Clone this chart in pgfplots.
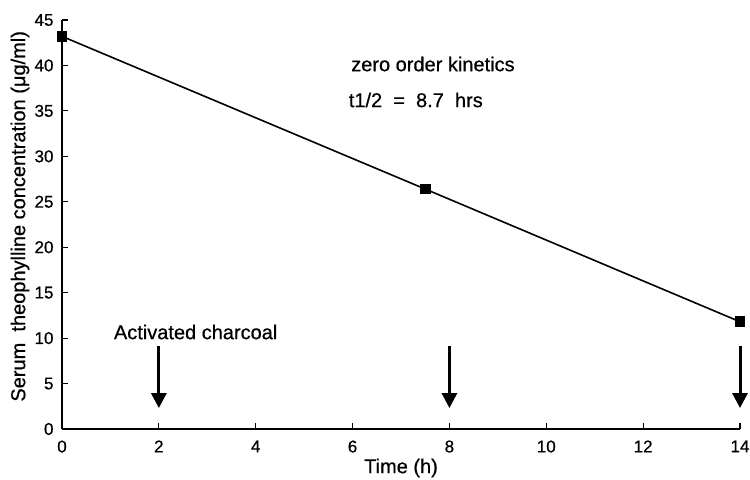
\documentclass[border=0pt]{standalone}
\usepackage{fontspec}
\setmainfont{Liberation Sans}[FakeBold=0.6]
\usepackage{pgfplots}
\pgfplotsset{compat=1.18}
\usetikzlibrary{arrows.meta}

\begin{document}
\begin{tikzpicture}
\useasboundingbox (-62bp,-51bp) rectangle (688bp,429bp);
\begin{axis}[
    scale only axis,
    width=678bp,
    height=409bp,
    xmin=0, xmax=14,
    ymin=0, ymax=45,
    xtick={0,2,...,14},
    ytick={0,5,...,45},
    axis x line*=bottom,
    axis y line*=left,
    axis line style={-, line width=1.5bp},
    tick align=inside,
    major tick length=6bp,
    tick style={line width=1.1bp, black},
    /pgf/number format/assume math mode=true,
    ticklabel style={font=\fontsize{17bp}{19bp}\selectfont},
    xticklabel style={yshift=-8bp},
    yticklabel style={xshift=-5bp},
    xlabel={Time (h)},
    ylabel={Serum\ \ theophylline concentration (μg/ml)},
    label style={font=\fontsize{20bp}{22bp}\selectfont},
    xlabel style={at={(rel axis cs:0.5,0)}, anchor=center, yshift=-39bp},
    ylabel style={at={(rel axis cs:0,0.52)}, anchor=center, yshift=42bp},
    clip=false,
]
\addplot[black, line width=1.6bp, mark=square*, mark size=4.5bp] coordinates {
    (0,43.2)
    (7.5,26.4)
    (14,11.8)
};
\node[anchor=west, font=\fontsize{20bp}{22bp}\selectfont] at (axis cs:5.9,40.15) {zero order kinetics};
\node[anchor=west, font=\fontsize{20bp}{22bp}\selectfont] at (axis cs:5.85,36.2) {t1/2\ \ =\ \ 8.7\ \ hrs};
\node[anchor=west, font=\fontsize{20bp}{22bp}\selectfont] at (axis cs:1.0,10.67) {Activated charcoal};
% charcoal doses
\draw[line width=3bp, -{Triangle[length=15bp, width=15bp]}] (axis cs:2,9.1) -- (axis cs:2,2.3);
\draw[line width=3bp, -{Triangle[length=15bp, width=15bp]}] (axis cs:8,9.1) -- (axis cs:8,2.3);
\draw[line width=3bp, -{Triangle[length=15bp, width=15bp]}] (axis cs:14,9.1) -- (axis cs:14,2.3);
\end{axis}
\end{tikzpicture}
\end{document}
